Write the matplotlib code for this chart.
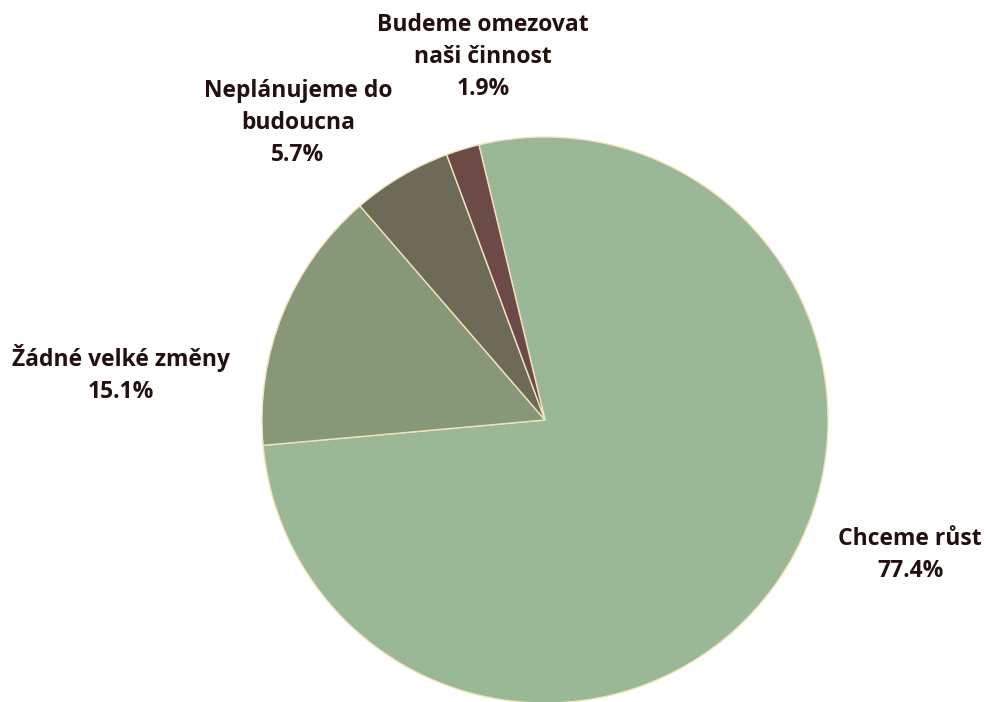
import matplotlib
matplotlib.use("Agg")
from matplotlib import pyplot as plt

# ── Data ──────────────────────────────────────────────────────────────────────
categories = ["Chceme růst", "Žádné velké změny", "Neplánujeme do\nbudoucna",
              "Budeme omezovat\nnaši činnost"]
shares     = [77.4, 15.1, 5.7, 1.9]
colors     = ["#9bb896", "#869878", "#6e6a58", "#6b4a48"]

# label anchor points in data units (pie radius = 1)
label_xy = [(1.29, -0.477), (-1.498, 0.163), (-0.873, 1.049), (-0.219, 1.283)]

_TEXT = "#24100f"
_EDGE = "#f3e3bd"

fig = plt.figure(figsize=(9.86, 7.02), dpi=100)
ax = fig.add_axes([0, 0, 1, 1])

ax.pie(shares, colors=colors, startangle=103.5, counterclock=False,
       radius=1.0, wedgeprops=dict(edgecolor=_EDGE, linewidth=1.0))

for name, val, (x, y) in zip(categories, shares, label_xy):
    ax.text(x, y, f"{name}\n{val:.1f}%", ha="center", va="center",
            fontsize=16.5, fontweight="bold", family="Open Sans",
            color=_TEXT, linespacing=1.45)

r_px = 283.0
cx, cy = 545.0, 420.0
ax.set_xlim(-cx / r_px, (986 - cx) / r_px)
ax.set_ylim(-(702 - cy) / r_px, cy / r_px)
ax.set_aspect("auto")
ax.axis("off")

fig.savefig("out.png", dpi=100)
